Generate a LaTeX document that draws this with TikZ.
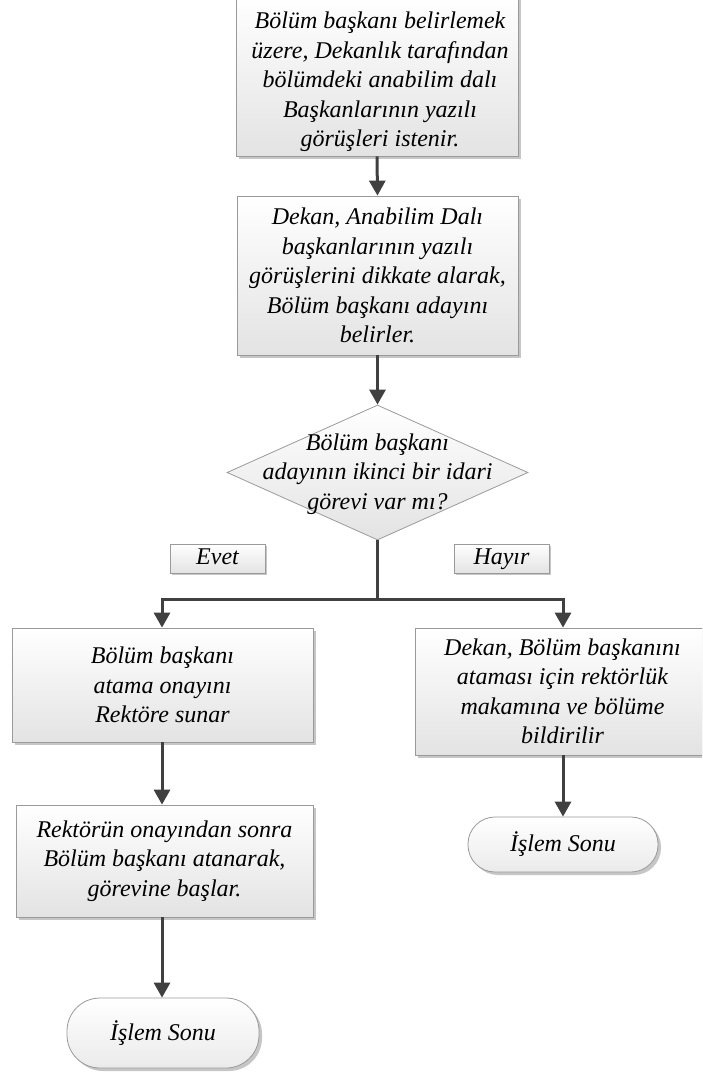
\documentclass[tikz,border=0pt]{standalone}
\usepackage{fontspec}
\setmainfont{Liberation Serif}
\usetikzlibrary{shapes.geometric,arrows.meta,shadows}
\definecolor{linec}{HTML}{404040}
\definecolor{bordc}{HTML}{9A9A9A}
\definecolor{shadc}{HTML}{B8B8B8}
\tikzset{
  txt/.style={font=\fontsize{24}{29.5}\selectfont\itshape, align=center},
  procbox/.style={draw=bordc, line width=0.8pt, top color=white, bottom color=black!11,
    drop shadow={shadow xshift=3pt, shadow yshift=-3pt, fill=shadc, opacity=0.8},
    inner sep=0pt, txt},
  decbox/.style={diamond, draw=bordc, line width=0.8pt, top color=white, bottom color=black!11, inner sep=0pt},
  termbox/.style={draw=bordc, line width=0.8pt, rounded corners=27pt, top color=white, bottom color=black!8,
    drop shadow={shadow xshift=3pt, shadow yshift=-3pt, fill=shadc, opacity=0.8},
    inner sep=0pt, txt},
  lblbox/.style={draw=bordc, line width=0.8pt, top color=white, bottom color=black!11,
    drop shadow={shadow xshift=2pt, shadow yshift=-2pt, fill=shadc, opacity=0.8},
    minimum width=95pt, minimum height=29pt, inner sep=0pt, text height=17pt, text depth=6pt, txt},
  flow/.style={draw=linec, line width=3pt, -{Triangle[width=16pt,length=15pt]}},
  seg/.style={draw=linec, line width=3pt},
}
\begin{document}
\begin{tikzpicture}[x=1pt,y=-1pt]
\useasboundingbox (0,0) rectangle (702,1077);
\begin{scope}
\clip (0,0) rectangle (702,1077);
\node[procbox, minimum width=282pt, minimum height=162pt] (b1) at (377,75) {};
\node[txt] (b1t) at (380,82) {Bölüm başkanı belirlemek\\üzere, Dekanlık tarafından\\bölümdeki anabilim dalı\\Başkanlarının yazılı\\görüşleri istenir.};
\node[procbox, minimum width=281pt, minimum height=159pt] (b2) at (377.5,275.5) {Dekan, Anabilim Dalı\\başkanlarının yazılı\\görüşlerini dikkate alarak,\\Bölüm başkanı adayını\\belirler.};
\node[decbox, minimum width=301pt, minimum height=135pt] (d) at (377.5,472.5) {};
\node[txt] (dt) at (377.5,474) {Bölüm başkanı\\adayının ikinci bir idari\\görevi var mı?};
\node[lblbox] (evet) at (217.5,558.5) {Evet};
\node[lblbox] (hayir) at (501.5,558.5) {Hayır};
\node[procbox, minimum width=301pt, minimum height=114pt] (b3) at (162.5,685) {Bölüm başkanı\\atama onayını\\Rektöre sunar};
\node[procbox, minimum width=295pt, minimum height=127pt] (b4) at (562.5,691.5) {Dekan, Bölüm başkanını\\ataması için rektörlük\\makamına ve bölüme\\bildirilir};
\node[procbox, minimum width=297pt, minimum height=112pt] (b5) at (164.5,861) {Rektörün onayından sonra\\Bölüm başkanı atanarak,\\görevine başlar.};
\node[termbox, minimum width=190pt, minimum height=55pt] (t1) at (563,844.5) {İşlem Sonu};
\node[termbox, rounded corners=33pt, minimum width=192pt, minimum height=70pt] (t2) at (163,1033) {İşlem Sonu};
\end{scope}
\coordinate (j) at (377.5,599);
\coordinate (jl) at (162,599);
\coordinate (jr) at (563,599);
\draw[flow] (b1.south) -- (b2.north);
\draw[flow] (b2.south) -- (d.north);
\draw[seg] (d.south) -- (j);
\draw[flow] ([xshift=1.5pt]j) -- (jl) -- (jl |- b3.north);
\draw[flow] ([xshift=-1.5pt]j) -- (jr) -- (jr |- b4.north);
\draw[flow] (jl |- b3.south) -- (jl |- b5.north);
\draw[flow] (jl |- b5.south) -- (jl |- t2.north);
\draw[flow] (b4.south -| jr) -- (t1.north);
\end{tikzpicture}
\end{document}
